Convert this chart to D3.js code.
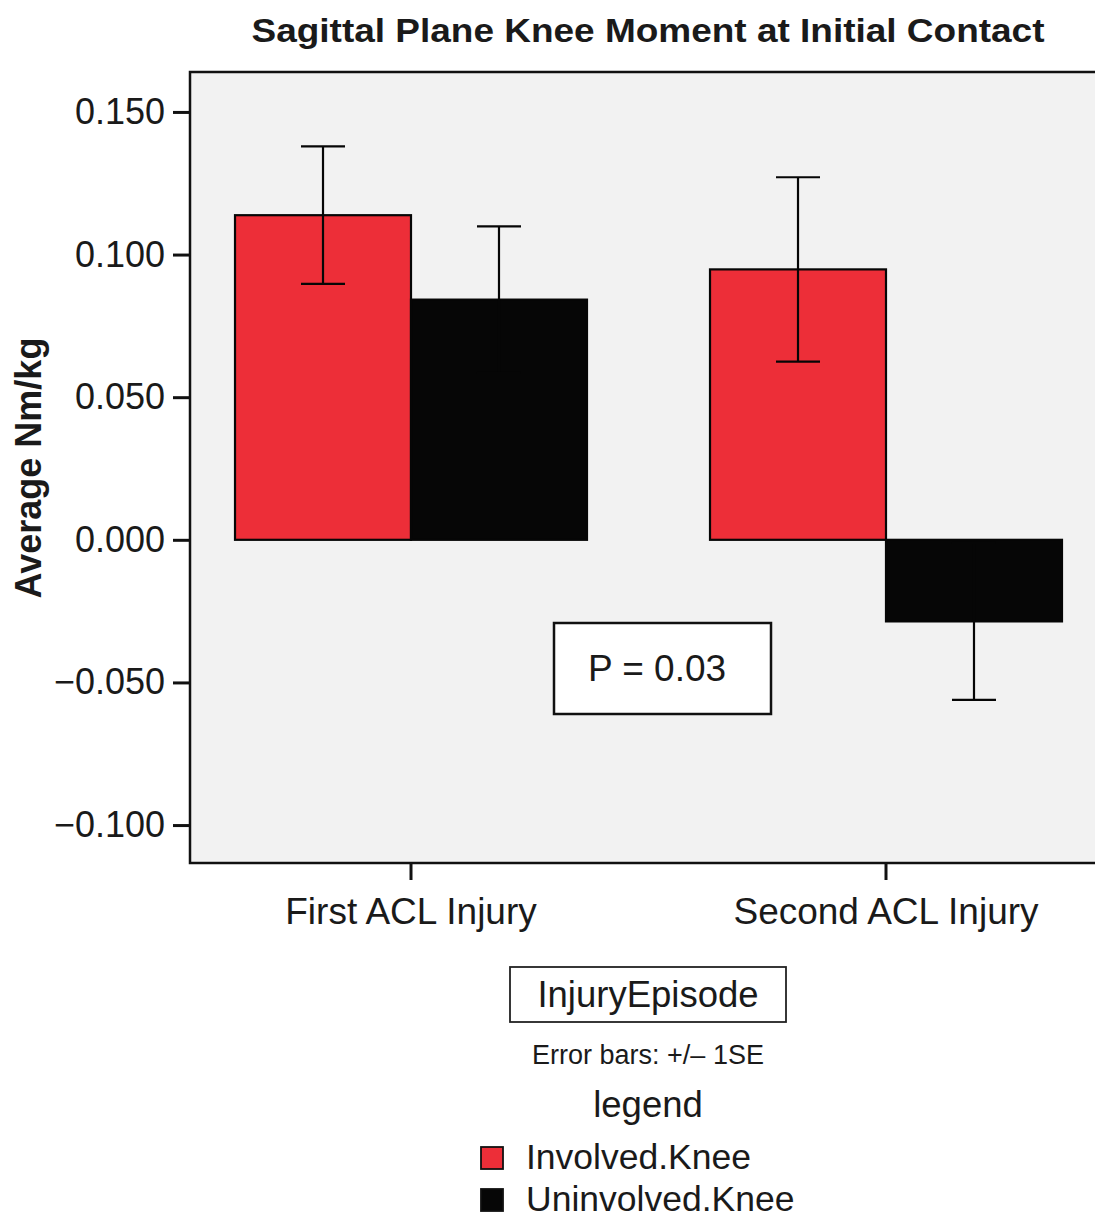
<!DOCTYPE html>
<html>
<head>
<meta charset="utf-8">
<script src="https://cdn.jsdelivr.net/npm/d3@7"></script>
<style>
  html, body { margin: 0; padding: 0; background: #ffffff; }
  svg { display: block; }
  text { font-family: "Liberation Sans", Arial, Helvetica, sans-serif; fill: #1a1a1a; }
</style>
</head>
<body>
<svg id="chart" width="1095" height="1218"></svg>
<script>
// ---- data ----
const categories = ["First ACL Injury", "Second ACL Injury"];
const seriesNames = ["Involved.Knee", "Uninvolved.Knee"];
const involvedMean = [0.1138, 0.0948];
const involvedSE = [0.0241, 0.0323];
const uninvolvedMean = [0.0842, -0.0286];
const uninvolvedSE = [0.0257, 0.0275];
const yTickValues = [-0.100, -0.050, 0.000, 0.050, 0.100, 0.150];
const seriesColors = ["#ED2E38", "#060606"];
const titleText = "Sagittal Plane Knee Moment at Initial Contact";
const yAxisTitle = "Average Nm/kg";
const pLabel = "P = 0.03";
const xAxisTitle = "InjuryEpisode";
const noteText = "Error bars: +/\u2013 1SE";
const legendTitle = "legend";

// table built from the arrays
const table = [];
categories.forEach((c, i) => {
  table.push({ cat: c, series: seriesNames[0], mean: involvedMean[i], se: involvedSE[i] });
  table.push({ cat: c, series: seriesNames[1], mean: uninvolvedMean[i], se: uninvolvedSE[i] });
});

// ---- layout ----
const svg = d3.select("#chart");
const plot = { left: 190, top: 72, right: 1110, bottom: 863 };

const y = d3.scaleLinear().domain([-0.1133, 0.164]).range([plot.bottom, plot.top]);
const x = d3.scaleBand().domain(categories).range([173.5, 1123.5])
  .paddingInner(0.259).paddingOuter(0.1295);
const xs = d3.scaleBand().domain(seriesNames).range([0, x.bandwidth()]);
const color = d3.scaleOrdinal().domain(seriesNames).range(seriesColors);

// title
svg.append("text")
  .attr("x", 648).attr("y", 42)
  .attr("text-anchor", "middle")
  .attr("font-size", 34).attr("font-weight", "bold")
  .attr("textLength", 793).attr("lengthAdjust", "spacingAndGlyphs")
  .text(titleText);

// plot background / frame
svg.append("rect")
  .attr("x", plot.left).attr("y", plot.top)
  .attr("width", plot.right - plot.left).attr("height", plot.bottom - plot.top)
  .attr("fill", "#F2F2F2").attr("stroke", "#111").attr("stroke-width", 2.5);

// bars
svg.append("g").selectAll("rect").data(table).join("rect")
  .attr("x", d => x(d.cat) + xs(d.series))
  .attr("width", xs.bandwidth())
  .attr("y", d => Math.min(y(d.mean), y(0)))
  .attr("height", d => Math.abs(y(d.mean) - y(0)))
  .attr("fill", d => color(d.series))
  .attr("stroke", "#060606").attr("stroke-width", 2.2);

// error bars
const capHalf = 22;
const eg = svg.append("g").attr("stroke", "#060606").attr("stroke-width", 2.2).attr("fill", "none");
table.forEach(d => {
  const cx = x(d.cat) + xs(d.series) + xs.bandwidth() / 2;
  const y1 = y(d.mean + d.se), y2 = y(d.mean - d.se);
  eg.append("line").attr("x1", cx).attr("x2", cx).attr("y1", y1).attr("y2", y2);
  eg.append("line").attr("x1", cx - capHalf).attr("x2", cx + capHalf).attr("y1", y1).attr("y2", y1);
  eg.append("line").attr("x1", cx - capHalf).attr("x2", cx + capHalf).attr("y1", y2).attr("y2", y2);
});

// y axis
const yAxis = svg.append("g")
  .attr("transform", `translate(${plot.left},0)`)
  .call(d3.axisLeft(y).tickValues(yTickValues).tickFormat(d3.format(".3f")).tickSize(17).tickPadding(8));
yAxis.select(".domain").remove();
yAxis.selectAll(".tick line").attr("stroke", "#111").attr("stroke-width", 3);
yAxis.selectAll(".tick text").attr("font-size", 36).attr("fill", "#1a1a1a")
  .attr("font-family", "'Liberation Sans', Arial, sans-serif");

// y axis title
svg.append("text")
  .attr("transform", "translate(41,468) rotate(-90)")
  .attr("text-anchor", "middle")
  .attr("font-size", 36).attr("font-weight", "bold")
  .text(yAxisTitle);

// x axis
const xAxis = svg.append("g")
  .attr("transform", `translate(0,${plot.bottom})`)
  .call(d3.axisBottom(x).tickSize(17).tickPadding(18));
xAxis.select(".domain").remove();
xAxis.selectAll(".tick line").attr("stroke", "#111").attr("stroke-width", 3);
xAxis.selectAll(".tick text").attr("font-size", 37).attr("fill", "#1a1a1a")
  .attr("font-family", "'Liberation Sans', Arial, sans-serif");

// P-value box
svg.append("rect")
  .attr("x", 554).attr("y", 623).attr("width", 217).attr("height", 91)
  .attr("fill", "#ffffff").attr("stroke", "#111").attr("stroke-width", 2.5);
svg.append("text")
  .attr("x", 657).attr("y", 681).attr("text-anchor", "middle")
  .attr("font-size", 37).text(pLabel);

// x axis title box
svg.append("rect")
  .attr("x", 510).attr("y", 967).attr("width", 276).attr("height", 55)
  .attr("fill", "#ffffff").attr("stroke", "#222").attr("stroke-width", 1.8);
svg.append("text")
  .attr("x", 648).attr("y", 1007).attr("text-anchor", "middle")
  .attr("font-size", 36.5).text(xAxisTitle);

// note
svg.append("text")
  .attr("x", 648).attr("y", 1064).attr("text-anchor", "middle")
  .attr("font-size", 27).text(noteText);

// legend
svg.append("text")
  .attr("x", 648).attr("y", 1117).attr("text-anchor", "middle")
  .attr("font-size", 36.5).text(legendTitle);

const lg = svg.append("g").selectAll("g").data(seriesNames).join("g")
  .attr("transform", (d, i) => `translate(481,${1147 + i * 42})`);
lg.append("rect")
  .attr("width", 22).attr("height", 22)
  .attr("fill", d => color(d)).attr("stroke", "#111").attr("stroke-width", 1.8);
lg.append("text")
  .attr("x", 45).attr("y", 22)
  .attr("font-size", 35.5).text(d => d);
</script>
</body>
</html>
